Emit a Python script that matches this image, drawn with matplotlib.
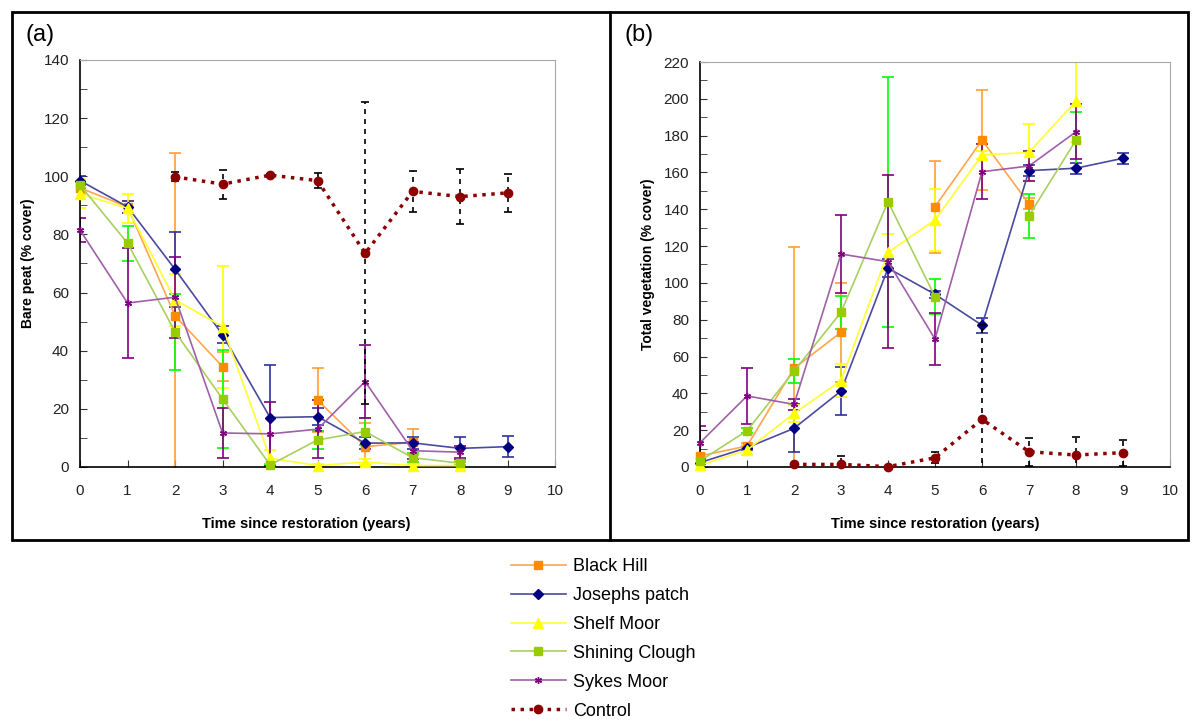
import numpy as np
import matplotlib
matplotlib.use("Agg")
import matplotlib.pyplot as plt
from matplotlib.lines import Line2D
from matplotlib.patches import Rectangle
from matplotlib.ticker import MultipleLocator

plt.rcParams['font.family'] = ['Liberation Sans', 'DejaVu Sans']

nan = np.nan
years = [0, 1, 2, 3, 4, 5, 6, 7, 8, 9]
ctrl_years = [2, 3, 4, 5, 6, 7, 8, 9]

sites = ["Black Hill", "Josephs patch", "Shelf Moor", "Shining Clough", "Sykes Moor"]

# bare peat (% cover)
peat_bh = [96, 89.5, 52, 34.5, nan, 23, 7, 8.5, nan, nan]
peat_bh_err = [2, 2, 56, 5, 0, 11, 8, 4.5, 0, 0]
peat_jp = [98.5, 89.5, 68, 45.5, 17, 17.3, 8.2, 8.3, 6.4, 7]
peat_jp_err = [1.5, 2, 13, 3, 18, 3, 2, 2, 4, 3.5]
peat_sm = [94, 89, 57.5, 48.3, 3, 0.5, 1.7, 0.5, 0.5, nan]
peat_sm_err = [5, 5, 9, 21, 3, 0.5, 1, 0.5, 1.5, 0]
peat_sc = [97, 77, 46.5, 23.4, 0.7, 9.3, 12.2, 3.2, 1.3, nan]
peat_sc_err = [1, 6, 13, 17, 0.5, 3, 4.5, 1.5, 0.5, 0]
peat_sy = [81.5, 56.4, 58.4, 11.7, 11.4, 13, 29.4, 5.6, 5.1, nan]
peat_sy_err = [4, 19, 14, 8.5, 11, 10, 12.5, 3, 2, 0]
peat_ctrl = [99.8, 97.3, 100.4, 98.5, 73.5, 94.8, 93, 94.3]
peat_ctrl_err = [1.5, 5, 0.5, 2.5, 52, 7, 9.5, 6.5]

# total vegetation (% cover)
veg_bh = [6, 11.4, 53.6, 73.2, nan, 141.4, 177.6, 142.9, nan, nan]
veg_bh_err = [1, 1.5, 66, 27, 0, 25, 27, 3, 0, 0]
veg_jp = [2.4, 10.5, 21, 41.3, 108, 93.8, 77, 161, 162.3, 167.7]
veg_jp_err = [1, 1, 13, 13, 5, 2, 4, 3, 3, 3]
veg_sm = [1, 9.2, 29.1, 46.9, 116.6, 134.2, 169.5, 170.9, 198.8, nan]
veg_sm_err = [1, 2.5, 4.5, 9, 10, 17, 2, 15.5, 22, 0]
veg_sc = [3.3, 19.7, 52.1, 84, 144.1, 92.5, nan, 136.5, 177.6, nan]
veg_sc_err = [1, 1.5, 6.5, 9, 68, 9.5, 0, 12, 15, 0]
veg_sy = [13.2, 38.6, 34, 115.7, 111.5, 69.5, 160.4, 163.5, 182.1, nan]
veg_sy_err = [9, 15, 3, 21, 47, 14, 15, 8, 15, 0]
veg_ctrl = [1.4, 1.4, 0.2, 5, 25.9, 8.3, 6.5, 7.8]
veg_ctrl_err = [1, 4.5, 0.5, 3, 51, 7.5, 10, 7]

# line colour, marker colour, error bar colour, marker, size
styles = [
    ("#FFA64D", "#FF8C00", "#FFA030", "s", 6),
    ("#4A4AA0", "#000080", "#3030A0", "D", 5),
    ("#FFFF33", "#FFFF00", "#FFFF00", "^", 7),
    ("#A8D060", "#99CC00", "#00FF00", "s", 6),
    ("#A060A8", "#800080", "#800080", (6, 2, 0), 5),
]
ctrl_col = "#8B0000"


def draw_panel(ax, series, ctrl, ctrl_err, ymax, ylabel, xlab_pos):
    for (vals, errs), (lc, mc, ec, mk, ms) in zip(series, styles):
        ax.errorbar(years, vals, yerr=errs, fmt="none", ecolor=ec,
                    elinewidth=1.2, capsize=4, capthick=1.2, zorder=2)
        ax.plot(years, vals, color=lc, lw=1.2, marker=mk, ms=ms,
                mfc=mc, mec=mc, mew=1, zorder=3, clip_on=False)
    eb = ax.errorbar(ctrl_years, ctrl, yerr=ctrl_err, fmt="none", ecolor="black",
                     elinewidth=1.2, capsize=3, capthick=1.2, zorder=4)
    eb[2][0].set_linestyle((0, (3, 3)))
    ax.plot(ctrl_years, ctrl, color=ctrl_col, lw=2.5, ls=(0, (1, 1.6)),
            marker="o", ms=6, mfc=ctrl_col, mec=ctrl_col, zorder=5, clip_on=False)

    ax.set_xlim(0, 10)
    ax.set_ylim(0, ymax)
    ax.xaxis.set_major_locator(MultipleLocator(1))
    ax.yaxis.set_major_locator(MultipleLocator(20))
    ax.yaxis.set_minor_locator(MultipleLocator(10))
    ax.tick_params(axis="both", which="both", direction="in", length=5,
                   labelsize=11, labelcolor="#222222", color="#333333")
    ax.tick_params(axis="x", pad=12)
    ax.tick_params(axis="y", pad=8)
    for s in ("top", "right"):
        ax.spines[s].set_color("#A8A8A8")
    for s in ("left", "bottom"):
        ax.spines[s].set_color("black")
        ax.spines[s].set_linewidth(1.2)
    ax.set_xlabel("Time since restoration (years)", fontsize=10.5,
                  fontweight="bold", labelpad=14)
    ax.xaxis.label.set_x(xlab_pos)
    ax.set_ylabel(ylabel, fontsize=10, fontweight="bold", labelpad=6)


fig = plt.figure(figsize=(11.94, 7.21), dpi=100)
ax_a = fig.add_axes([0.067, 0.3523, 0.398, 0.5645])
ax_b = fig.add_axes([0.5863, 0.3523, 0.3936, 0.5617])

draw_panel(ax_a,
           [(peat_bh, peat_bh_err), (peat_jp, peat_jp_err), (peat_sm, peat_sm_err),
            (peat_sc, peat_sc_err), (peat_sy, peat_sy_err)],
           peat_ctrl, peat_ctrl_err, 140, "Bare peat (% cover)", 0.477)
draw_panel(ax_b,
           [(veg_bh, veg_bh_err), (veg_jp, veg_jp_err), (veg_sm, veg_sm_err),
            (veg_sc, veg_sc_err), (veg_sy, veg_sy_err)],
           veg_ctrl, veg_ctrl_err, 220, "Total vegetation (% cover)", 0.5)

# panel frames
W, H = 1194, 721
fig.add_artist(Rectangle((12 / W, 1 - 540 / H), (1188 - 12) / W, (540 - 12) / H,
                         transform=fig.transFigure, fill=False, lw=2, ec="black"))
fig.add_artist(Line2D([610 / W, 610 / W], [1 - 12 / H, 1 - 540 / H],
                      transform=fig.transFigure, lw=2, color="black"))
fig.text(25 / W, 1 - 35 / H, "(a)", fontsize=17, va="center", ha="left")
fig.text(624 / W, 1 - 35 / H, "(b)", fontsize=17, va="center", ha="left")

handles = []
for name, (lc, mc, ec, mk, ms) in zip(sites, styles):
    handles.append(Line2D([], [], color=lc, lw=1.2, marker=mk, ms=ms, mfc=mc, mec=mc))
handles.append(Line2D([], [], color=ctrl_col, lw=2.5, ls=(0, (1, 1.6)),
                      marker="o", ms=6, mfc=ctrl_col, mec=ctrl_col))
fig.legend(handles, sites + ["Control"], loc="center", bbox_to_anchor=(0.505, 0.114),
           frameon=False, fontsize=13, handlelength=3.05, handletextpad=0.4,
           labelspacing=0.66)

fig.savefig("out.png", dpi=100)
